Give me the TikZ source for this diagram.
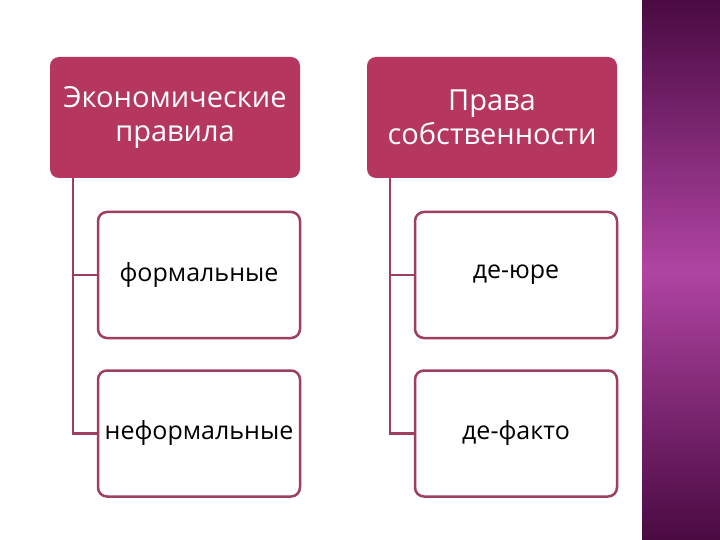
\documentclass[tikz,border=0pt]{standalone}
\usepackage{fontspec}
\setmainfont{Open Sans}
\begin{document}
\begin{tikzpicture}[x=1pt,y=-1pt,
  head/.style={draw=none,fill=hcol,rounded corners=9pt,minimum width=250pt,minimum height=121pt,text=white,font=\fontsize{29}{34}\selectfont,align=center,inner sep=0pt},
  child/.style={draw=bcol,line width=2.5pt,fill=white,rounded corners=9pt,minimum width=202pt,minimum height=126pt,font=\fontsize{25}{30}\selectfont,inner sep=0pt},
  conn/.style={draw=bcol,line width=2.5pt}]
\definecolor{hcol}{HTML}{B5375F}
\definecolor{bcol}{HTML}{9E3F62}
\definecolor{sdark}{HTML}{4A0A42}
\definecolor{smid}{HTML}{B044A2}
\useasboundingbox (0,0) rectangle (720,540);
\fill[white] (0,0) rectangle (720,540);
\shade[top color=sdark,bottom color=smid] (642,0) rectangle (720,270);
\shade[top color=smid,bottom color=sdark] (642,270) rectangle (720,540);
\node[head] (h1) at (175,117.5) {Экономические\\правила};
\node[head] (h2) at (492,117.5) {Права\\собственности};
\node[child] (a1) at (199,275) {формальные};
\node[child] (a2) at (199,433.5) {неформальные};
\node[child] (b1) at (516,275) {де-юре};
\node[child] (b2) at (516,433.5) {де-факто};
\coordinate (la) at (73,178);
\coordinate (lb) at (390,178);
\draw[conn] (la) |- (a1.west);
\draw[conn] (la) |- (a2.west);
\draw[conn] (lb) |- (b1.west);
\draw[conn] (lb) |- (b2.west);
\end{tikzpicture}
\end{document}
